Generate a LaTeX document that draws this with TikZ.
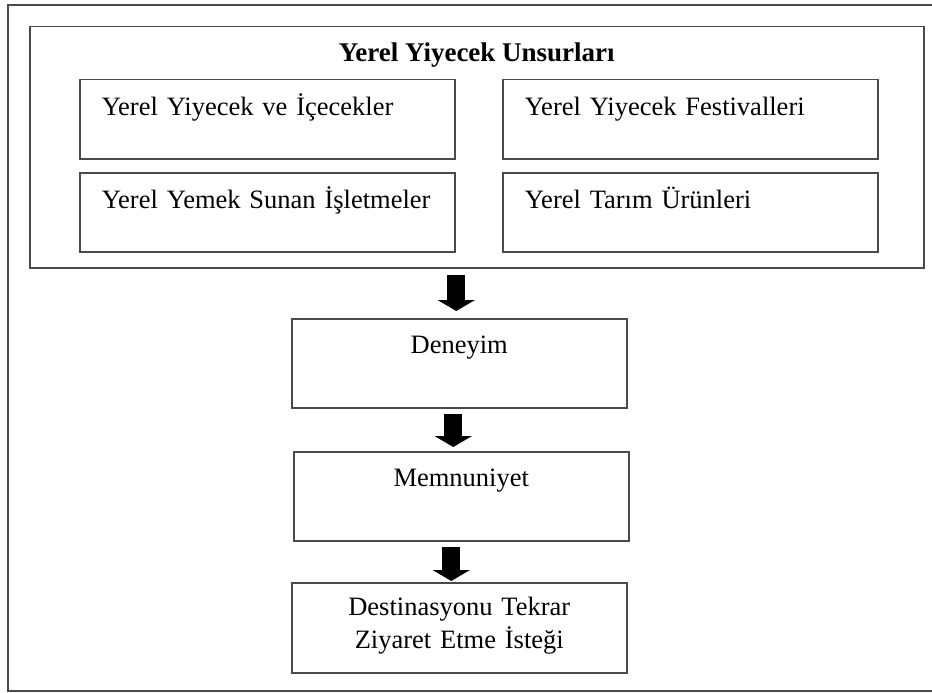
\documentclass[tikz,border=0pt]{standalone}
\usepackage{fontspec}
\setmainfont{Liberation Serif}
\usepackage{xcolor}
\usepackage{tikz}
\usetikzlibrary{positioning,arrows.meta,calc}
\definecolor{frameGray}{HTML}{4A4A4A}

\begin{document}
\begin{tikzpicture}[
    x=1pt, y=-1pt,
    box/.style={draw=frameGray, line width=1.5pt, anchor=north west, font=\fontsize{26.5}{33}\selectfont, inner xsep=22pt, inner ysep=16pt, text height=20pt},
    sub/.style={box, text width=331pt, align=left, text depth=27pt},
    stage/.style={box, text width=291pt, align=center, inner ysep=15pt, text depth=39pt},
    blk/.style={line width=18pt, -{Triangle[width=37pt,length=11pt]}}
  ]
  \useasboundingbox (0,0) rectangle (932,693);
  \draw[frameGray, line width=2pt] (932,5) -- (8,5) -- (8,691) -- (932,691);

  \node[box, font=\fontsize{27}{33}\selectfont\bfseries, minimum width=894pt, inner ysep=15pt, text depth=191pt] (group) at (29,26) {Yerel Yiyecek Unsurları};
  \node[sub] (food) at (79,79) {Yerel Yiyecek ve İçecekler};
  \node[sub] (fest) at (502,79) {Yerel Yiyecek Festivalleri};
  \node[sub] (rest) at (79,172) {Yerel Yemek Sunan İşletmeler};
  \node[sub] (agri) at (502,172) {Yerel Tarım Ürünleri};

  \node[stage] (exp) at (291,318) {Deneyim};
  \node[stage] (sat) at (293,451) {Memnuniyet};
  \node[stage, inner ysep=13pt, text depth=44pt] (visit) at (291,582) {Destinasyonu Tekrar\\Ziyaret Etme İsteği};

  \draw[blk, shorten <=6pt, shorten >=7pt] ([xshift=-3pt]exp.north |- group.south) -- ([xshift=-3pt]exp.north);
  \draw[blk, shorten <=5pt, shorten >=4pt] ([xshift=-6pt]exp.south) -- ([xshift=-6pt]exp.south |- sat.north);
  \draw[blk, shorten <=5pt, shorten >=1pt] ([xshift=-10pt]sat.south) -- ([xshift=-10pt]sat.south |- visit.north);
\end{tikzpicture}
\end{document}
